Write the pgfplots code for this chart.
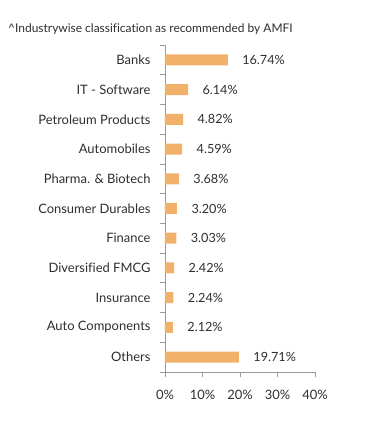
\documentclass[border=0pt]{standalone}
\usepackage{pgfplots}
\pgfplotsset{compat=1.18}
\usepackage{fontspec}
\setmainfont[Ligatures=NoCommon]{Lato}
\definecolor{barc}{HTML}{F0B26B}
\definecolor{txt}{HTML}{2E2E2E}
\definecolor{axc}{HTML}{9A9A9A}
\begin{document}
\begin{tikzpicture}
\useasboundingbox (-165bp,-54bp) rectangle (226bp,372bp);
\node[anchor=west, text=txt, font=\fontsize{12}{14}\selectfont, inner sep=0] at (-157bp,343bp) {\textasciicircum Industrywise classification as recommended by AMFI};
\begin{axis}[at={(0,0)}, anchor=south west, scale only axis, width=150bp, height=327bp,
  xbar, bar width=11bp,
  xmin=0, xmax=40, ymin=-0.5, ymax=10.5,
  axis x line*=bottom, axis y line*=left,
  axis line style={axc, line width=0.8pt},
  tick align=outside,
  ytick={0,...,10},
  yticklabels={Others,Auto Components,Insurance,Diversified FMCG,Finance,Consumer Durables,Pharma. \& Biotech,Automobiles,Petroleum Products,IT - Software,Banks},
  minor ytick={-0.5,0.5,...,10.5},
  major y tick style={draw=none},
  minor y tick style={axc, line width=0.8pt},
  major x tick style={axc, line width=0.8pt},
  major tick length=5bp, minor tick length=5bp,
  xtick={0,10,20,30,40},
  xticklabels={0\%,10\%,20\%,30\%,40\%},
  /pgf/number format/assume math mode=true,
  tick label style={text=txt, font=\fontsize{13}{15}\selectfont},
  yticklabel style={xshift=-6bp},
  xticklabel style={yshift=-10bp},
  nodes near coords={\pgfmathprintnumber[fixed,fixed zerofill,precision=2]{\pgfplotspointmeta}\%},
  nodes near coords style={anchor=west, xshift=11bp, text=txt, font=\fontsize{12.7}{15}\selectfont},
  clip=false,
]
\addplot[fill=barc, draw=none] coordinates {
(19.71,0) (2.12,1) (2.24,2) (2.42,3) (3.03,4) (3.20,5) (3.68,6) (4.59,7) (4.82,8) (6.14,9) (16.74,10)};
\end{axis}
\end{tikzpicture}
\end{document}
